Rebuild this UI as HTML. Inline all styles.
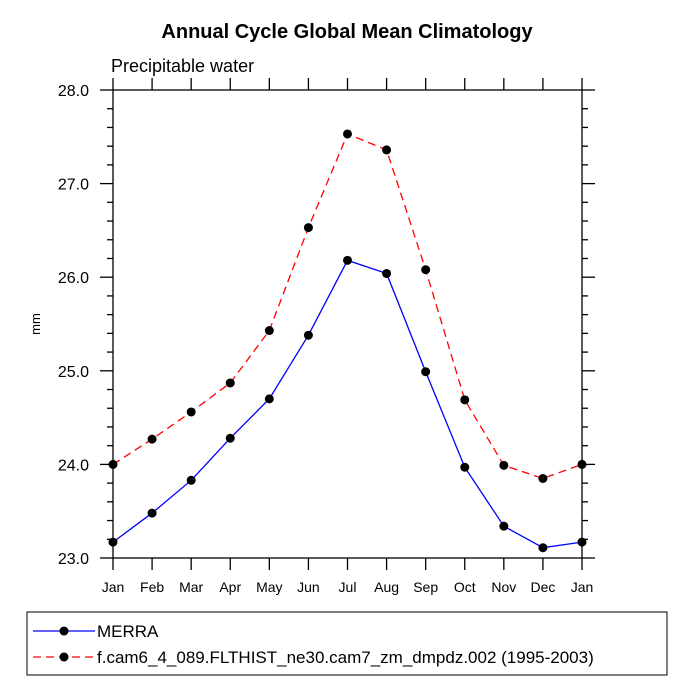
<!DOCTYPE html>
<html><head><meta charset="utf-8"><style>body{margin:0;background:#fff}svg{display:block;font-family:"Liberation Sans",sans-serif}</style></head>
<body>
<svg id="c" width="694" height="694">
<text x="347" y="38" text-anchor="middle" font-size="20" font-weight="bold">Annual Cycle Global Mean Climatology</text>
<text x="111" y="72" font-size="18">Precipitable water</text>
<text transform="translate(40,324) rotate(-90)" text-anchor="middle" font-size="13">mm</text>
<rect x="113" y="90" width="469" height="468" fill="none" stroke="#000" stroke-width="1.3"/>
<g id="ax"></g><g id="ser"></g>
<rect x="27" y="612" width="640" height="63" fill="none" stroke="#000" stroke-width="1"/>
<g><line x1="33" y1="631" x2="95" y2="631" stroke="#00f" stroke-width="1.3"/><circle cx="64" cy="631" r="4.5"/><text x="97" y="637" font-size="17">MERRA</text></g>
<g><line x1="33" y1="657" x2="95" y2="657" stroke="#f00" stroke-width="1.3" stroke-dasharray="8,5"/><circle cx="64" cy="657" r="4.5"/><text x="97" y="663" font-size="17">f.cam6_4_089.FLTHIST_ne30.cam7_zm_dmpdz.002 (1995-2003)</text></g>
</svg>
<script>
const months=["Jan","Feb","Mar","Apr","May","Jun","Jul","Aug","Sep","Oct","Nov","Dec","Jan"];
const merra=[23.17,23.48,23.83,24.28,24.70,25.38,26.18,26.04,24.99,23.97,23.34,23.11,23.17];
const model=[24.0,24.27,24.56,24.87,25.43,26.53,27.53,27.36,26.08,24.69,23.99,23.85,24.0];
const yTicks=[23,24,25,26,27,28];
const NS="http://www.w3.org/2000/svg";
const X0=113,X1=582,Y0=558,Y1=90,ymin=23,ymax=28;
const xs=i=>X0+(X1-X0)*i/(months.length-1);
const ys=v=>Y0-(v-ymin)/(ymax-ymin)*(Y0-Y1);
function mk(t,a,p){const e=document.createElementNS(NS,t);for(const k in a)e.setAttribute(k,a[k]);p.appendChild(e);return e;}
const ax=document.getElementById('ax'),ser=document.getElementById('ser');
months.forEach((m,i)=>{const x=xs(i);
 const l=mk('line',{x1:x,y1:Y0,x2:x,y2:Y0+12,stroke:'#000','stroke-width':1.3},ax);
 
 
 const l2=mk('line',{x1:x,y1:Y1,x2:x,y2:Y1-12,stroke:'#000','stroke-width':1.3},ax);
 
 
 const t=mk('text',{x:x,y:Y0+34,'text-anchor':'middle','font-size':14},ax);t.textContent=m;
 
 
});
for(let v=ymin;v<=ymax+1e-9;v+=0.2){const y=ys(v);const maj=Math.abs(v-Math.round(v))<1e-6;const len=maj?13:6;
 const a=mk('line',{x1:X0-len,y1:y,x2:X0,y2:y,stroke:'#000','stroke-width':1.3},ax);
 
 
 const b=mk('line',{x1:X1,y1:y,x2:X1+len,y2:y,stroke:'#000','stroke-width':1.3},ax);
 
 
}
yTicks.forEach(v=>{const t=mk('text',{x:89,y:ys(v)+6,'text-anchor':'end','font-size':16},ax);t.textContent=v.toFixed(1);
 
 
});
function series(d,col,dash,name){
 const p=mk('polyline',{points:d.map((v,i)=>xs(i)+','+ys(v)).join(' '),fill:'none',stroke:col,'stroke-width':1.3,'stroke-dasharray':dash},ser);
 
 
 d.forEach((v,i)=>{const c=mk('circle',{cx:xs(i),cy:ys(v),r:4.5},ser);
  
  });
}
series(merra,'#00f','none','merra');
series(model,'#f00','8,5','model');
</script>
</body></html>
